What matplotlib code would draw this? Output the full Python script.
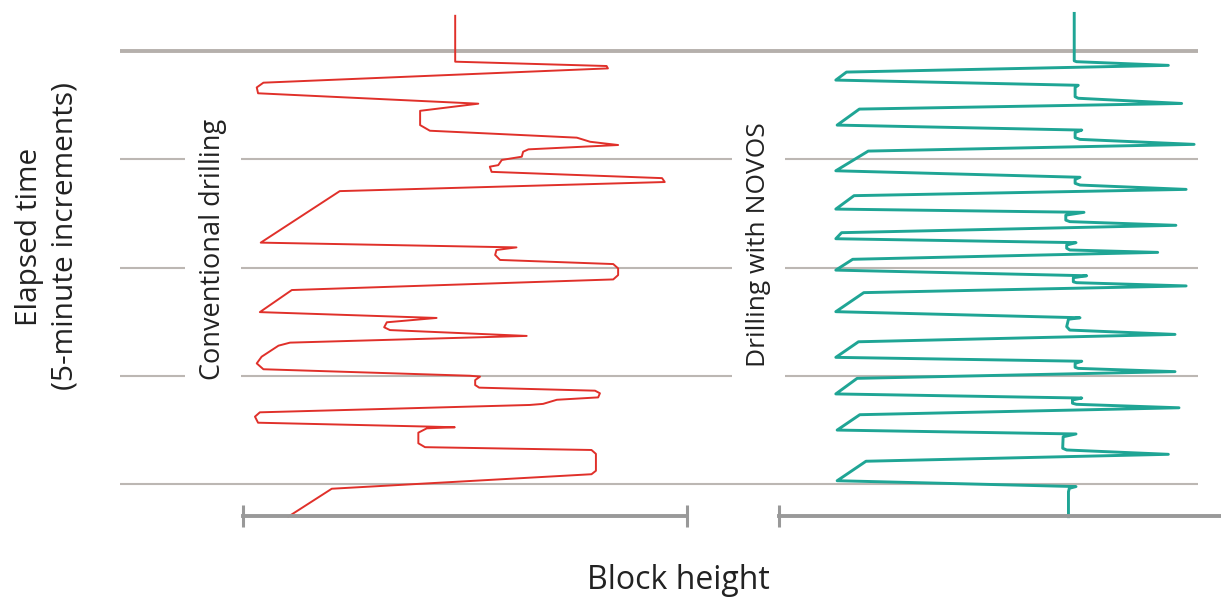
import matplotlib.pyplot as plt

plt.rcParams['font.family'] = ['Open Sans', 'DejaVu Sans']

# Conventional drilling: block height (% of range) vs elapsed time (min)
conv_altura = [47.8, 47.8, 81.9, 82.2, 4.6, 3.1, 3.4, 53.0, 39.9, 39.9, 42.1, 75.2, 78.2, 84.5,
               64.3, 63.1, 62.8, 58.3, 57.5, 55.6, 56.0, 94.4, 95.0, 21.8, 4.0, 61.6, 57.1, 56.8,
               57.9, 83.4, 84.5, 84.5, 83.4, 11.0, 3.8, 43.6, 32.4, 31.8, 33.1, 63.9, 10.6, 8.0,
               4.2, 3.1, 4.6, 51.1, 53.4, 52.3, 52.3, 53.2, 79.3, 80.4, 80.0, 70.7, 67.6, 64.6,
               3.8, 2.7, 3.4, 42.1, 47.7, 41.4, 39.5, 39.5, 41.0, 78.5, 79.5, 79.5, 78.5, 20.0, 10.2]
conv_tempo = [-1.63, 0.49, 0.69, 0.80, 1.46, 1.68, 1.95, 2.43, 2.76, 3.42, 3.68, 4.00, 4.19, 4.34,
              4.54, 4.65, 4.88, 5.03, 5.27, 5.34, 5.58, 5.87, 6.05, 6.47, 8.85, 9.07, 9.19, 9.42,
              9.65, 9.84, 10.04, 10.35, 10.55, 11.04, 12.06, 12.33, 12.53, 12.76, 12.89, 13.16, 13.47, 13.61,
              14.12, 14.43, 14.70, 15.00, 15.04, 15.20, 15.43, 15.55, 15.69, 15.81, 16.00, 16.11, 16.30, 16.35,
              16.69, 16.89, 17.17, 17.35, 17.38, 17.43, 17.63, 18.12, 18.30, 18.43, 18.61, 19.39, 19.55, 20.22, 21.51]

# Drilling with NOVOS
novos_altura = [66.5, 66.5, 67.0, 87.7, 15.2, 12.8, 67.4, 66.7, 66.7, 67.4, 90.7, 18.1, 13.1, 68.2,
                66.7, 66.7, 67.8, 93.5, 20.1, 12.8, 67.8, 66.7, 66.7, 67.8, 91.7, 16.9, 12.8, 68.7,
                64.6, 64.6, 65.5, 89.4, 14.1, 12.8, 66.9, 64.8, 64.8, 65.5, 85.3, 16.6, 12.8, 69.3,
                66.3, 66.3, 67.0, 91.7, 19.1, 12.8, 67.8, 65.2, 64.8, 65.5, 89.2, 17.9, 12.8, 68.2,
                66.7, 66.7, 67.4, 89.2, 17.6, 12.8, 68.2, 66.1, 66.1, 67.0, 90.1, 18.2, 13.1, 66.9,
                64.0, 63.9, 64.8, 87.7, 19.6, 13.1, 66.9, 65.4, 65.2, 65.2]
novos_tempo = [-1.74, 0.45, 0.49, 0.66, 0.97, 1.34, 1.58, 1.68, 2.11, 2.18, 2.42, 2.68, 3.42, 3.65,
               3.76, 4.00, 4.08, 4.31, 4.62, 5.53, 5.83, 5.93, 6.11, 6.19, 6.39, 6.68, 7.30, 7.45,
               7.58, 7.81, 7.88, 8.05, 8.39, 8.67, 8.85, 8.96, 9.11, 9.19, 9.30, 9.62, 10.12, 10.38,
               10.47, 10.66, 10.70, 10.85, 11.16, 12.04, 12.32, 12.39, 12.73, 12.89, 13.09, 13.43, 14.15, 14.33,
               14.43, 14.61, 14.66, 14.81, 15.12, 15.84, 16.03, 16.12, 16.27, 16.32, 16.48, 16.80, 17.51, 17.69,
               17.82, 18.35, 18.43, 18.63, 18.95, 19.85, 20.12, 20.20, 20.36, 21.51]

marcas_tempo = [0, 5, 10, 15, 20]
limites_tempo = (21.48, -2.36)

fig = plt.figure(figsize=(12.21, 6), dpi=100)

# fundo com as linhas de tempo
ax_fundo = fig.add_axes([0.0983, 0.14, 0.8829, 0.86])
ax_fundo.set_ylim(limites_tempo)
ax_fundo.set_xlim(0, 1)
ax_fundo.set_yticks(marcas_tempo[1:])
ax_fundo.grid(axis='y', color='#bcb7b3', lw=1.5)
ax_fundo.axhline(marcas_tempo[0], color='#b5b0ac', lw=2.8)
ax_fundo.tick_params(left=False, labelleft=False, bottom=False, labelbottom=False)
for s in ax_fundo.spines.values():
    s.set_visible(False)


def painel(pos, x, y, cor, lw):
    ax = fig.add_axes(pos)
    ax.set_facecolor('none')
    ax.plot(x, y, color=cor, lw=lw, solid_joinstyle='round', clip_on=False)
    ax.set_xlim(0, 100)
    ax.set_ylim(limites_tempo)
    for lado in ['top', 'left', 'right']:
        ax.spines[lado].set_visible(False)
    ax.spines['bottom'].set_color('#999999')
    ax.spines['bottom'].set_linewidth(2.8)
    ax.set_xticks([0, 100])
    ax.tick_params(axis='x', direction='inout', length=16, width=2.2, color='#999999', labelbottom=False)
    ax.set_yticks([])
    return ax


painel([0.1990, 0.14, 0.3636, 0.86], conv_altura, conv_tempo, '#e0302a', 1.4)
painel([0.6380, 0.14, 0.3636, 0.86], novos_altura, novos_tempo, '#1fa595', 2.1)

caixa = dict(facecolor='white', edgecolor='none', pad=10)
fig.text(0.1745, 0.585, 'Conventional drilling', rotation=90, ha='center', va='center',
         fontsize=19.5, color='#222222', bbox=caixa)
fig.text(0.6212, 0.592, 'Drilling with NOVOS', rotation=90, ha='center', va='center',
         fontsize=19, color='#222222', bbox=caixa)
fig.text(0.0389, 0.606, 'Elapsed time\n(5-minute increments)', rotation=90, ha='center', va='center',
         fontsize=21.5, color='#222222', linespacing=1.3)
fig.text(0.5557, 0.0317, 'Block height', ha='center', va='center', fontsize=23, color='#222222')

fig.savefig('out.png', dpi=100)
